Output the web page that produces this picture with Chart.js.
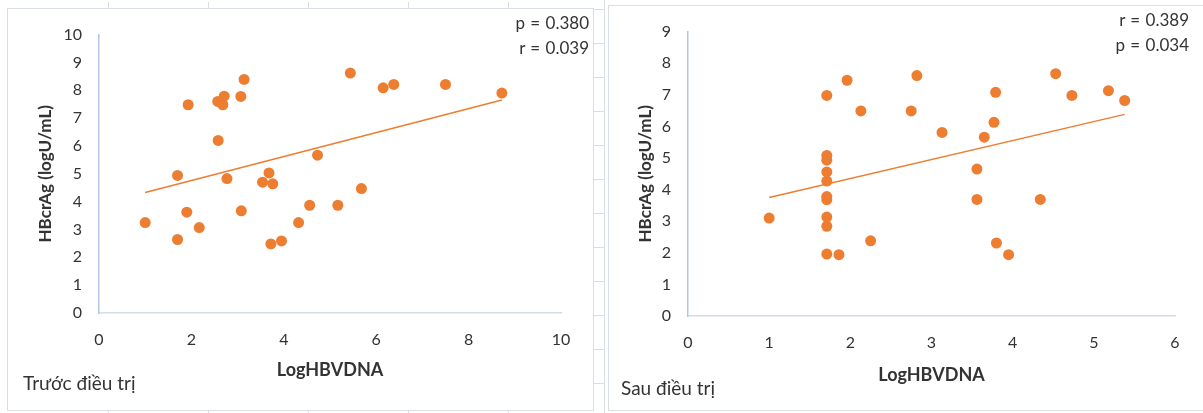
<!DOCTYPE html>
<html>
<head>
<meta charset="utf-8">
<script src="https://cdn.jsdelivr.net/npm/chart.js@4.4.1/dist/chart.umd.min.js"></script>
<style>
  body { margin: 0; background: #fff; width: 1203px; height: 413px; position: relative; overflow: hidden; font-family: Lato, "Open Sans", sans-serif; color: #333; }
  canvas { position: absolute; }
  .box { position: absolute; box-sizing: border-box; border: 1px solid #d9dee6; }
  .tick { position: absolute; background: #d9dee6; }
  .note { position: absolute; font-size: 17px; line-height: 20px; word-spacing: 1px; white-space: nowrap; color: #333; }
  .label { position: absolute; font-size: 19px; line-height: 22px; white-space: nowrap; color: #333; }
</style>
</head>
<body>
<div class="box" style="left:7px;top:8px;width:587px;height:403px;"></div>
<div class="box" style="left:608px;top:5px;width:600px;height:406px;"></div>
<div class="tick" style="left:604px;top:0;width:1px;height:413px;"></div>
<div id="deco"></div>

<canvas id="before" width="586" height="402" style="left:7px;top:8px;"></canvas>
<canvas id="after" width="595" height="405" style="left:608px;top:5px;"></canvas>

<div class="note" style="right:614px;top:13px;">p = 0.380</div>
<div class="note" style="right:614px;top:38px;">r = 0.039</div>
<div class="label" style="left:23px;top:372px;">Trước điều trị</div>

<div class="note" style="right:14px;top:10px;">r = 0.389</div>
<div class="note" style="right:14px;top:35px;">p = 0.034</div>
<div class="label" style="left:621px;top:377px;">Sau điều trị</div>

<script>
// Trước điều trị
const beforeX = [1.0, 1.7, 1.7, 1.93, 1.9, 2.17, 2.57, 2.68, 2.71, 2.58, 2.77, 3.07, 3.14, 3.08, 3.54, 3.68, 3.76, 3.72, 3.95, 4.32, 4.56, 4.73, 5.17, 5.44, 5.68, 6.15, 6.38, 7.5, 8.72];
const beforeY = [3.25, 4.94, 2.64, 7.48, 3.62, 3.07, 7.6, 7.48, 7.79, 6.2, 4.83, 7.78, 8.39, 3.67, 4.7, 5.03, 4.64, 2.48, 2.59, 3.25, 3.87, 5.67, 3.87, 8.62, 4.47, 8.09, 8.21, 8.21, 7.9];
const beforeTrend = [{ x: 1.0, y: 4.33 }, { x: 8.72, y: 7.65 }];

// Sau điều trị
const afterX = [1.0, 1.71, 1.71, 1.71, 1.71, 1.71, 1.71, 1.71, 1.71, 1.71, 1.71, 1.86, 1.96, 2.13, 2.25, 2.75, 2.82, 3.13, 3.56, 3.56, 3.65, 3.77, 3.79, 3.8, 3.95, 4.34, 4.53, 4.73, 5.18, 5.38];
const afterY = [3.1, 6.98, 5.08, 4.93, 4.56, 4.27, 3.78, 3.68, 3.13, 2.84, 1.96, 1.94, 7.46, 6.49, 2.38, 6.49, 7.61, 5.81, 4.65, 3.69, 5.66, 6.13, 7.08, 2.31, 1.94, 3.69, 7.67, 6.98, 7.13, 6.82];
const afterTrend = [{ x: 1.0, y: 3.75 }, { x: 5.38, y: 6.38 }];

const xTitle = 'LogHBVDNA';
const yTitle = 'HBcrAg (logU/mL)';

const ORANGE = '#ED7D31';
const tickFont = { family: 'Lato', size: 16 };
const xTitleFont = { family: 'Lato', size: 18, weight: 'bold' };
const yTitleFont = { family: 'Lato', size: 17, weight: 'bold' };

// little marks from the page grid around the two panels
let deco = '';
for (let x = 108; x < 600; x += 100) {
    deco += `<div class="tick" style="left:${x}px;top:2px;width:1px;height:6px;"></div>`;
    deco += `<div class="tick" style="left:${x}px;top:410px;width:1px;height:3px;"></div>`;
}
for (let y = 9; y < 413; y += 34) {
    deco += `<div class="tick" style="left:594px;top:${y}px;width:10px;height:1px;"></div>`;
}
document.getElementById('deco').innerHTML = deco;

function makeChart(id, xs, ys, trend, xMax, xStep, yMax, dims) {
    const points = xs.map((x, i) => ({ x: x, y: ys[i] }));
    return new Chart(document.getElementById(id), {
        type: 'scatter',
        data: {
            datasets: [
                {
                    data: points,
                    backgroundColor: ORANGE,
                    borderColor: ORANGE,
                    borderWidth: 0,
                    pointRadius: 5.5,
                    pointHoverRadius: 5.5,
                    order: 1
                },
                {
                    type: 'line',
                    data: trend,
                    borderColor: ORANGE,
                    borderWidth: 1.5,
                    pointRadius: 0,
                    fill: false,
                    order: 2
                }
            ]
        },
        options: {
            responsive: false,
            animation: false,
            layout: { padding: { left: 0, top: dims.top, right: dims.right, bottom: 0 } },
            plugins: { legend: { display: false }, tooltip: { enabled: false } },
            scales: {
                x: {
                    type: 'linear',
                    min: 0,
                    max: xMax,
                    ticks: { stepSize: xStep, color: '#333', font: tickFont, padding: 17 },
                    grid: { display: false, drawTicks: false },
                    border: { color: '#d6dce6', width: 1.5 },
                    title: { display: true, text: xTitle, color: '#333', font: xTitleFont, padding: { top: 0, bottom: dims.xTitlePad } },
                    afterFit: (s) => { s.height = dims.xHeight; }
                },
                y: {
                    min: 0,
                    max: yMax,
                    ticks: { stepSize: 1, color: '#333', font: tickFont, padding: 17 },
                    grid: { display: false, drawTicks: false },
                    border: { color: '#b4c6e4', width: 1.5 },
                    title: { display: true, text: yTitle, color: '#333', font: yTitleFont, padding: { top: dims.yTitlePad, bottom: 0 } },
                    afterFit: (s) => { s.width = dims.yWidth; }
                }
            }
        }
    });
}

makeChart('before', beforeX, beforeY, beforeTrend, 10, 2, 10,
    { top: 24, right: 32, xHeight: 97, yWidth: 92, xTitlePad: 29, yTitlePad: 28 });
makeChart('after', afterX, afterY, afterTrend, 6, 1, 9,
    { top: 23, right: 28, xHeight: 94, yWidth: 80, xTitlePad: 24, yTitlePad: 27 });
</script>
</body>
</html>
